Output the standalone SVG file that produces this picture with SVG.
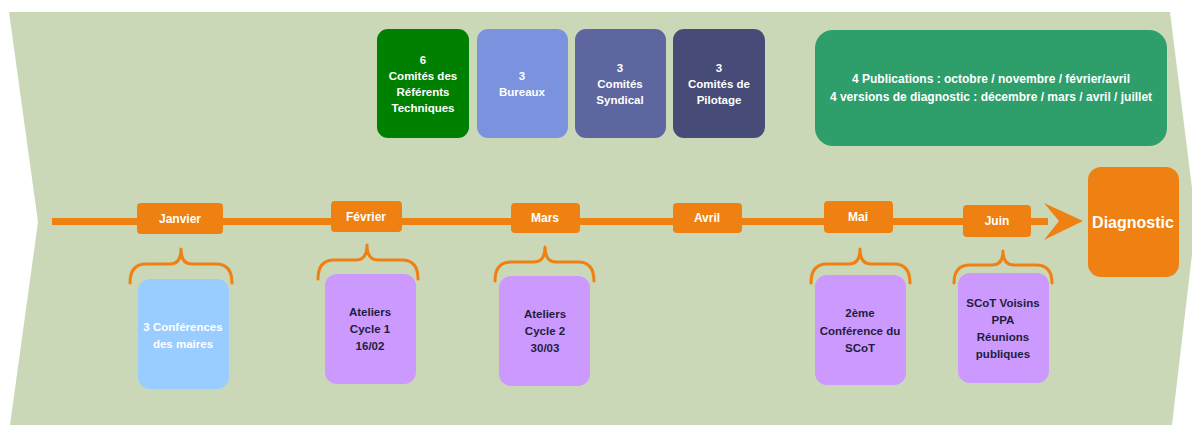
<svg xmlns="http://www.w3.org/2000/svg" width="1192" height="425" viewBox="0 0 1192 425">
<defs>
<style>
.t{font-family:"Liberation Sans",Arial,sans-serif;font-weight:bold;text-anchor:middle}
.w{fill:#ffffff}
.d{fill:#1e1e3c}
.m{fill:#ef8012}
.br{fill:none;stroke:#ef8012;stroke-width:3;stroke-linecap:round;stroke-linejoin:round}
</style>
</defs>
<rect width="1192" height="425" fill="#ffffff"/>
<polygon id="background" points="9,12 1170,12 1196,220 1172,425 10,425 38,222" fill="#cad8b8"/>

<g id="connectors">
<rect x="52" y="218" width="996" height="7" fill="#ef8012"/>
<polygon points="1044,203 1083,221 1044,240 1059,221" fill="#ef8012"/>
<path class="br" d="M130,283 Q130,264 146,264 L170,264 Q181,264 181,249 Q181,264 192,264 L216,264 Q232,264 232,283"/>
<path class="br" d="M318,279 Q318,260 334,260 L356,260 Q367,260 367,245 Q367,260 378,260 L402,260 Q418,260 418,279"/>
<path class="br" d="M495,281 Q495,262 511,262 L534,262 Q545,262 545,247 Q545,262 556,262 L578,262 Q594,262 594,281"/>
<path class="br" d="M811,283 Q811,264 827,264 L849,264 Q860,264 860,249 Q860,264 871,264 L894,264 Q910,264 910,283"/>
<path class="br" d="M954,283 Q954,265 970,265 L992,265 Q1003,265 1003,251 Q1003,265 1014,265 L1036,265 Q1052,265 1052,283"/>
</g>

<g id="comites-referents">
<rect x="377" y="29" width="92" height="109" rx="11" fill="#008000"/>
<text class="t w" font-size="11.5"><tspan x="423" y="64">6</tspan><tspan x="423" y="80">Comités des</tspan><tspan x="423" y="96">Référents</tspan><tspan x="423" y="112">Techniques</tspan></text>
</g>
<g id="bureaux">
<rect x="477" y="29" width="91" height="109" rx="11" fill="#7b93de"/>
<text class="t w" font-size="11.5"><tspan x="522" y="80">3</tspan><tspan x="522" y="96">Bureaux</tspan></text>
</g>
<g id="comites-syndical">
<rect x="575" y="29" width="91" height="109" rx="11" fill="#5d669e"/>
<text class="t w" font-size="11.5"><tspan x="620" y="72">3</tspan><tspan x="620" y="88">Comités</tspan><tspan x="620" y="104">Syndical</tspan></text>
</g>
<g id="comites-pilotage">
<rect x="673" y="29" width="92" height="109" rx="11" fill="#464b78"/>
<text class="t w" font-size="11.5"><tspan x="719" y="72">3</tspan><tspan x="719" y="88">Comités de</tspan><tspan x="719" y="104">Pilotage</tspan></text>
</g>
<g id="publications">
<rect x="815" y="30" width="352" height="116" rx="18" fill="#2e9e6a"/>
<text class="t w" font-size="12"><tspan x="991" y="83">4 Publications : octobre / novembre / février/avril</tspan><tspan x="991" y="101">4 versions de diagnostic : décembre / mars / avril / juillet</tspan></text>
</g>

<g id="janvier"><rect x="137" y="203" width="86" height="31" rx="4" class="m"/><text class="t w" font-size="12" x="180" y="223">Janvier</text></g>
<g id="fevrier"><rect x="331" y="201" width="71" height="31" rx="4" class="m"/><text class="t w" font-size="12" x="366" y="221">Février</text></g>
<g id="mars"><rect x="511" y="203" width="69" height="30" rx="4" class="m"/><text class="t w" font-size="12" x="545" y="222">Mars</text></g>
<g id="avril"><rect x="673" y="203" width="69" height="30" rx="4" class="m"/><text class="t w" font-size="12" x="707" y="222">Avril</text></g>
<g id="mai"><rect x="824" y="201" width="69" height="32" rx="4" class="m"/><text class="t w" font-size="12" x="858" y="221">Mai</text></g>
<g id="juin"><rect x="963" y="205" width="68" height="32" rx="4" class="m"/><text class="t w" font-size="12" x="997" y="225">Juin</text></g>

<g id="diagnostic">
<rect x="1088" y="167" width="91" height="110" rx="13" class="m"/>
<text class="t w" font-size="16" x="1133" y="228">Diagnostic</text>
</g>

<g id="conferences-maires">
<rect x="138" y="279" width="91" height="110" rx="12" fill="#99ccff"/>
<text class="t w" font-size="11.5"><tspan x="183" y="331">3 Conférences</tspan><tspan x="183" y="348">des maires</tspan></text>
</g>
<g id="ateliers-cycle1">
<rect x="325" y="274" width="91" height="110" rx="12" fill="#cc99ff"/>
<text class="t d" font-size="11.5"><tspan x="370" y="316">Ateliers</tspan><tspan x="370" y="333">Cycle 1</tspan><tspan x="370" y="350">16/02</tspan></text>
</g>
<g id="ateliers-cycle2">
<rect x="499" y="276" width="91" height="110" rx="12" fill="#cc99ff"/>
<text class="t d" font-size="11.5"><tspan x="545" y="318">Ateliers</tspan><tspan x="545" y="335">Cycle 2</tspan><tspan x="545" y="352">30/03</tspan></text>
</g>
<g id="conference-scot">
<rect x="815" y="275" width="91" height="110" rx="12" fill="#cc99ff"/>
<text class="t d" font-size="11.5"><tspan x="860" y="317">2ème</tspan><tspan x="860" y="335">Conférence du</tspan><tspan x="860" y="352">SCoT</tspan></text>
</g>
<g id="scot-voisins">
<rect x="958" y="273" width="91" height="110" rx="12" fill="#cc99ff"/>
<text class="t d" font-size="11.5"><tspan x="1003" y="307">SCoT Voisins</tspan><tspan x="1003" y="324">PPA</tspan><tspan x="1003" y="341">Réunions</tspan><tspan x="1003" y="358">publiques</tspan></text>
</g>
</svg>
